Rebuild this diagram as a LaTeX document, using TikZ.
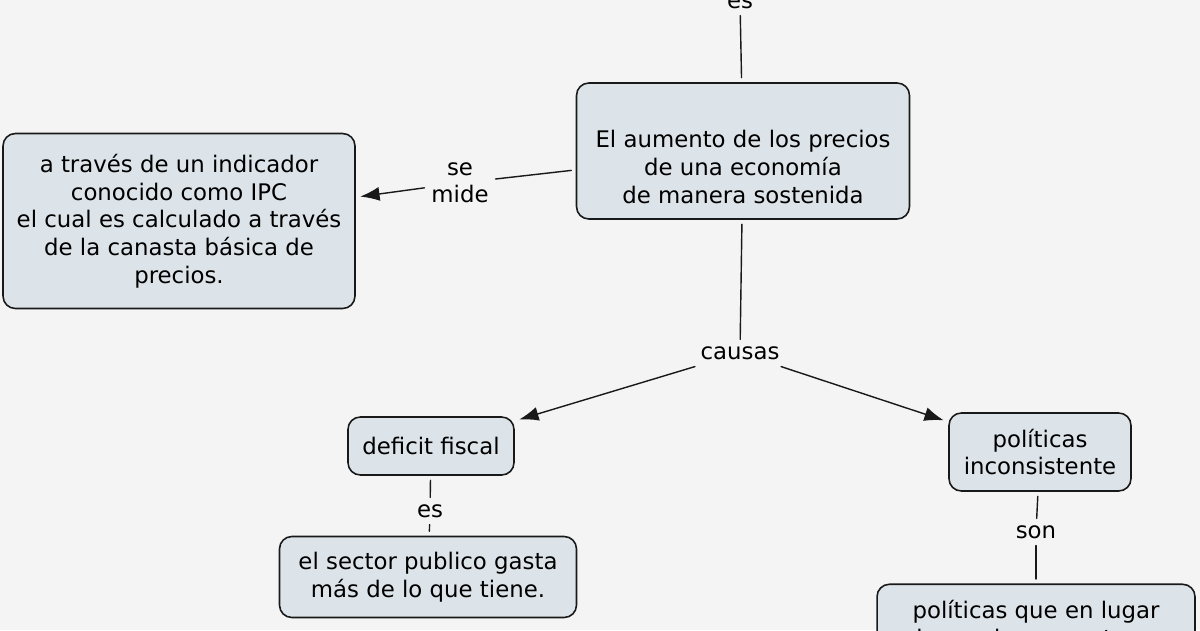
\documentclass[tikz,border=0pt]{standalone}
\usepackage{fontspec}
\setmainfont{DejaVu Sans}
\usetikzlibrary{arrows.meta}
\definecolor{fondo}{RGB}{244,244,244}
\definecolor{caja}{RGB}{221,228,233}
\tikzset{
  concepto/.style={draw=black!90, fill=caja, rounded corners=7pt, line width=0.9pt,
    align=center, outer sep=3pt, font=\fontsize{13}{15.8}\selectfont},
  enlace/.style={align=center, inner sep=3.8pt, font=\fontsize{13}{15.3}\selectfont},
  linea/.style={line width=0.8pt, draw=black!90},
  flecha/.style={linea, -{Latex[length=11pt,width=8pt]}}
}
\begin{document}
\begin{tikzpicture}[x=0.02cm,y=-0.02cm,line cap=round,line join=round]
\useasboundingbox (0,0) rectangle (1200,630);
\clip (0,0) rectangle (1200,630);
\fill[fondo] (0,0) rectangle (1200,630);

% conceptos
\node[concepto, minimum width=6.66cm, minimum height=2.72cm] (aumento) at (743,151)
  {\mbox{}\\[12pt]El aumento de los precios\\de una econom\'ia\\de manera sostenida};
\node[concepto, minimum width=7.04cm, minimum height=3.5cm] (ipc) at (179,221)
  {a trav\'es de un indicador\\conocido como IPC\\el cual es calculado a trav\'es\\de la canasta b\'asica de\\precios.};
\node[concepto, minimum width=3.32cm, minimum height=1.16cm] (deficit) at (431,446) {deficit fiscal};
\node[concepto, minimum width=3.64cm, minimum height=1.56cm] (politicas) at (1040,452)
  {pol\'iticas\\inconsistente};
\node[concepto, minimum width=5.94cm, minimum height=1.62cm] (sector) at (428,577)
  {el sector publico gasta\\m\'as de lo que tiene.};
\node[concepto, anchor=north, minimum width=6.36cm, inner ysep=0.32cm] (lugar) at (1036,579)
  {pol\'iticas que en lugar\\de ayudar a mantener};

% enlaces
\node[enlace] (es1) at (740,2) {es};
\node[enlace] (mide) at (460,183) {se\\mide};
\node[enlace] (causas) at (740,353) {causas};
\node[enlace] (es2) at (430,511) {es};
\node[enlace] (son) at (1036,532) {son};

\draw[linea] (es1) -- (aumento);
\draw[linea] (aumento) -- (mide);
\draw[flecha] (mide) -- (ipc);
\draw[linea] (aumento) -- (causas);
\draw[flecha] (causas) -- (deficit);
\draw[flecha] (causas) -- (politicas);
\draw[linea] (deficit) -- (es2);
\draw[linea] (es2) -- (sector);
\draw[linea] (politicas) -- (son);
\draw[linea] (son) -- (lugar);
\end{tikzpicture}
\end{document}
